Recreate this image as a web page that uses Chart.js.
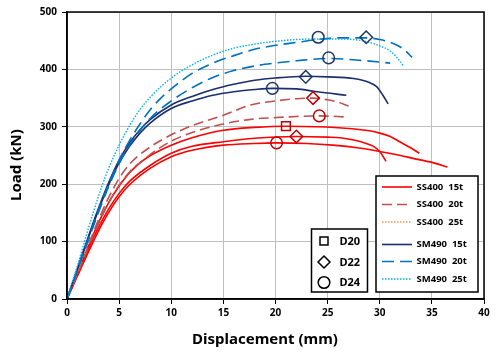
<!DOCTYPE html>
<html>
<head>
<meta charset="utf-8">
<script src="https://cdn.jsdelivr.net/npm/chart.js"></script>
<style>
  body { margin: 0; background: #fff; }
  canvas { display: block; }
</style>
</head>
<body>
<canvas id="loadChart" width="500" height="359"></canvas>
<script>
// tick labels
const xTicks = [0, 5, 10, 15, 20, 25, 30, 35, 40];
const yTicks = [0, 100, 200, 300, 400, 500];
const xTitle = "Displacement (mm)";
const yTitle = "Load (kN)";

// SS400 15t (three specimens)
const ss400_15t_a_x = [0, 1, 2, 3, 4, 5, 6, 7, 8, 10, 12, 15, 18, 21, 24, 27, 29, 30, 31, 32, 33, 33.8];
const ss400_15t_a_y = [0, 45, 90, 132, 168, 197, 220, 237, 250, 268, 281, 294, 299, 301, 300, 297, 293, 289, 283, 273, 263, 254];
const ss400_15t_b_x = [0, 1, 2, 3, 4, 5, 6, 8, 10, 12, 15, 18, 22, 25, 26.2, 27.5, 28.7, 29.4, 30, 30.6];
const ss400_15t_b_y = [0, 42, 85, 124, 157, 184, 205, 233, 254, 266, 274, 280, 283, 282, 281, 277, 271, 266, 257, 240];
const ss400_15t_c_x = [0, 1, 2, 3, 4, 5, 6, 8, 10, 12, 15, 18, 20, 23, 25.5, 28, 30, 32, 33.2, 35, 36.5];
const ss400_15t_c_y = [0, 40, 80, 118, 151, 178, 199, 228, 248, 259, 268, 271, 272, 271, 268, 263, 257, 250, 245, 238, 230];

// SS400 20t
const ss400_20t_a_x = [0, 1, 2, 3, 4, 5, 6, 8, 10, 12, 15, 17.6, 20, 22, 23.6, 25, 26, 27];
const ss400_20t_a_y = [0, 45, 92, 137, 177, 210, 235, 265, 286, 302, 320, 338, 345, 349, 350, 347, 343, 336];
const ss400_20t_b_x = [0, 1, 2, 3, 4, 5, 6, 8, 10, 12, 15, 17.6, 20, 22, 24.2, 26.8];
const ss400_20t_b_y = [0, 44, 88, 130, 168, 198, 221, 252, 275, 290, 305, 313, 316, 318, 319, 317];

// SS400 25t (mostly hidden under the others)
const ss400_25t_x = [0, 0.5, 1, 1.5, 2];
const ss400_25t_y = [0, 24, 48, 72, 96];

// SM490 15t
const sm490_15t_a_x = [0, 1, 2, 3, 4, 5, 6, 7, 8, 10, 12, 14, 16, 18, 20, 22.9, 25, 27.5, 29, 29.7, 30.3, 30.8];
const sm490_15t_a_y = [0, 53, 106, 157, 203, 242, 272, 295, 313, 338, 353, 365, 374, 381, 385, 388, 387, 384, 377, 370, 355, 340];
const sm490_15t_b_x = [0, 1, 2, 3, 4, 5, 6, 7, 8, 10, 12, 14, 16, 18, 19.7, 22, 24, 26.8];
const sm490_15t_b_y = [0, 52, 104, 154, 199, 237, 266, 289, 307, 332, 345, 355, 361, 365, 367, 366, 361, 355];

// SM490 20t
const sm490_20t_a_x = [0, 1, 2, 3, 4, 5, 6, 7, 8, 9, 10, 12, 14, 16, 18, 20, 22, 24, 26, 28.7, 30, 31.3, 32.3, 33.1];
const sm490_20t_a_y = [0, 51, 103, 154, 200, 242, 276, 305, 330, 350, 366, 393, 411, 424, 435, 442, 447, 452, 455, 455, 452, 445, 435, 421];
const sm490_20t_b_x = [0, 1, 2, 3, 4, 5, 6, 8, 10, 12, 14, 16, 18, 20, 22, 25.1, 28, 31];
const sm490_20t_b_y = [0, 50, 100, 150, 196, 236, 268, 315, 345, 368, 386, 398, 406, 411, 415, 419, 416, 411];

// SM490 25t
const sm490_25t_x = [0, 1, 2, 3, 4, 5, 6, 7, 8, 10, 12, 14, 16, 18, 20, 22, 24, 26, 28, 29, 30, 31, 32, 32.3];
const sm490_25t_y = [0, 58, 120, 178, 228, 268, 302, 330, 352, 385, 408, 425, 437, 444, 449, 452, 453, 453, 451, 447, 441, 432, 413, 405];

// ultimate-load markers (bolt diameter)
const d20_x = [21];
const d20_y = [301];
const d20_group = ["SS400"];
const d22_x = [22, 23.6, 22.9, 28.7];
const d22_y = [283, 350, 387, 456];
const d22_group = ["SS400", "SS400", "SM490", "SM490"];
const d24_x = [20.1, 24.2, 19.7, 25.1, 24.1];
const d24_y = [272, 319, 367, 420, 456];
const d24_group = ["SS400", "SS400", "SM490", "SM490", "SM490"];

const pts = (xs, ys) => xs.map((x, i) => ({ x: x, y: ys[i] }));
const markerColor = g => g.map(m => m === "SS400" ? "#C00000" : "#1F3864");

const styles = {
  ss15: { color: "#FF0000", dash: [], width: 1.6 },
  ss20: { color: "#C0504D", dash: [10, 5], width: 1.6 },
  ss25: { color: "#F79646", dash: [1.5, 1.5], width: 1.4 },
  sm15: { color: "#1B2F6E", dash: [], width: 1.6 },
  sm20: { color: "#0070C0", dash: [12, 6], width: 1.6 },
  sm25: { color: "#00B0F0", dash: [1.5, 1.5], width: 1.4 }
};

function curve(label, xs, ys, st) {
  return {
    label: label,
    data: pts(xs, ys),
    borderColor: st.color,
    borderDash: st.dash,
    borderWidth: st.width,
    pointRadius: 0,
    fill: false,
    cubicInterpolationMode: "monotone"
  };
}

function markers(label, xs, ys, groups, style, radius) {
  return {
    label: label,
    data: pts(xs, ys),
    showLine: false,
    pointStyle: style,
    pointRadius: radius,
    pointBorderWidth: 1.5,
    pointBorderColor: markerColor(groups),
    pointBackgroundColor: "rgba(0,0,0,0)"
  };
}

// frame, axis titles and the two legend boxes
const legendBoxes = {
  id: "legendBoxes",
  afterDraw(chart) {
    const ctx = chart.ctx;
    const a = chart.chartArea;
    ctx.save();
    // plot frame
    ctx.strokeStyle = "#000";
    ctx.lineWidth = 1.5;
    ctx.strokeRect(a.left, a.top, a.right - a.left, a.bottom - a.top);

    // axis titles
    ctx.fillStyle = "#000";
    ctx.font = "bold 15px 'Noto Sans'";
    ctx.textAlign = "center";
    ctx.textBaseline = "middle";
    ctx.fillText(xTitle, 265, 340);
    ctx.save();
    ctx.translate(17, 165);
    ctx.rotate(-Math.PI / 2);
    ctx.fillText(yTitle, 0, 0);
    ctx.restore();
    ctx.textAlign = "left";

    // line styles box
    ctx.fillStyle = "#fff";
    ctx.fillRect(376, 176, 102, 116);
    ctx.strokeRect(376, 176, 102, 116);
    const rows = [
      ["SS400  15t", styles.ss15, 187],
      ["SS400  20t", styles.ss20, 204.5],
      ["SS400  25t", styles.ss25, 222],
      ["SM490  15t", styles.sm15, 244.5],
      ["SM490  20t", styles.sm20, 261.5],
      ["SM490  25t", styles.sm25, 279]
    ];
    ctx.font = "bold 9.5px 'Noto Sans'";
    rows.forEach(r => {
      ctx.strokeStyle = r[1].color;
      ctx.lineWidth = r[1].width;
      ctx.setLineDash(r[1].dash);
      ctx.beginPath();
      ctx.moveTo(382, r[2]);
      ctx.lineTo(412, r[2]);
      ctx.stroke();
      ctx.setLineDash([]);
      ctx.fillStyle = "#000";
      ctx.fillText(r[0], 416.5, r[2]);
    });

    // marker box
    ctx.fillStyle = "#fff";
    ctx.strokeStyle = "#000";
    ctx.lineWidth = 1.5;
    ctx.fillRect(311.5, 229, 56, 63);
    ctx.strokeRect(311.5, 229, 56, 63);
    ctx.strokeRect(320, 237, 8, 8);
    ctx.beginPath();
    ctx.moveTo(324, 256);
    ctx.lineTo(330, 262);
    ctx.lineTo(324, 268);
    ctx.lineTo(318, 262);
    ctx.closePath();
    ctx.stroke();
    ctx.beginPath();
    ctx.arc(324, 282.5, 5.8, 0, Math.PI * 2);
    ctx.stroke();
    ctx.font = "bold 11px 'Noto Sans'";
    ctx.fillStyle = "#000";
    ctx.fillText("D20", 339.5, 241.5);
    ctx.fillText("D22", 339.5, 262.5);
    ctx.fillText("D24", 339.5, 283);
    ctx.restore();
  }
};

const tickFont = { family: "'Noto Sans'", size: 10, weight: "bold" };

const chart = new Chart(document.getElementById("loadChart"), {
  type: "line",
  data: {
    datasets: [
      markers("D20", d20_x, d20_y, d20_group, "rect", 6.2),
      markers("D22", d22_x, d22_y, d22_group, "rectRot", 6.3),
      markers("D24", d24_x, d24_y, d24_group, "circle", 5.8),
      curve("SM490  25t", sm490_25t_x, sm490_25t_y, styles.sm25),
      curve("SM490  20t", sm490_20t_a_x, sm490_20t_a_y, styles.sm20),
      curve("SM490  20t", sm490_20t_b_x, sm490_20t_b_y, styles.sm20),
      curve("SM490  15t", sm490_15t_a_x, sm490_15t_a_y, styles.sm15),
      curve("SM490  15t", sm490_15t_b_x, sm490_15t_b_y, styles.sm15),
      curve("SS400  25t", ss400_25t_x, ss400_25t_y, styles.ss25),
      curve("SS400  20t", ss400_20t_a_x, ss400_20t_a_y, styles.ss20),
      curve("SS400  20t", ss400_20t_b_x, ss400_20t_b_y, styles.ss20),
      curve("SS400  15t", ss400_15t_a_x, ss400_15t_a_y, styles.ss15),
      curve("SS400  15t", ss400_15t_b_x, ss400_15t_b_y, styles.ss15),
      curve("SS400  15t", ss400_15t_c_x, ss400_15t_c_y, styles.ss15)
    ]
  },
  options: {
    responsive: false,
    animation: false,
    devicePixelRatio: 1,
    layout: { padding: { top: 12, right: 16, left: 0, bottom: 0 } },
    plugins: {
      legend: { display: false },
      tooltip: { enabled: false }
    },
    scales: {
      x: {
        type: "linear",
        min: xTicks[0],
        max: xTicks[xTicks.length - 1],
        afterBuildTicks: s => { s.ticks = xTicks.map(v => ({ value: v })); },
        afterFit: s => { s.height = 60; },
        ticks: { color: "#000", font: tickFont, padding: 3, maxRotation: 0 },
        grid: { color: "#BFBFBF", lineWidth: 1, tickColor: "#000", tickLength: 5 },
        border: { color: "#000", width: 1.5 }
      },
      y: {
        min: yTicks[0],
        max: yTicks[yTicks.length - 1],
        afterBuildTicks: s => { s.ticks = yTicks.map(v => ({ value: v })); },
        afterFit: s => { s.width = 67; },
        ticks: { color: "#000", font: tickFont, padding: 5 },
        grid: { color: "#BFBFBF", lineWidth: 1, tickColor: "#000", tickLength: 5 },
        border: { color: "#000", width: 1.5 }
      }
    }
  },
  plugins: [legendBoxes]
});
</script>
</body>
</html>
